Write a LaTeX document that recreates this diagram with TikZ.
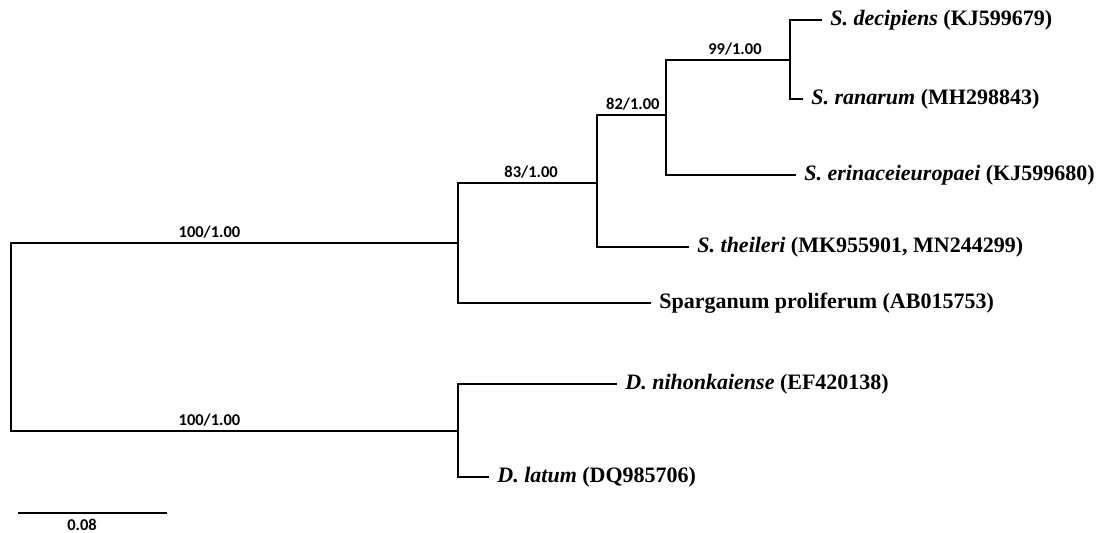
\documentclass[tikz,border=0pt]{standalone}
\usepackage{fontspec}
\setmainfont{Liberation Serif}
\newfontfamily\supfont{Carlito}
\usepackage{tikz}
\usetikzlibrary{positioning}

\tikzset{
	branch/.style={line width=1.pt},
	taxon/.style={anchor=west, inner xsep=4pt, inner ysep=0pt, font=\fontsize{11}{13}\selectfont\bfseries},
	support/.style={above, inner sep=2pt, font=\supfont\fontsize{8.25}{10}\selectfont\bfseries},
}

\begin{document}
\begin{tikzpicture}[x=0.5pt,y=-0.5pt]
	\useasboundingbox (0,0) rectangle (1101,533);
	
	% internal nodes
	\coordinate (root) at (11,337);
	\coordinate (nA) at (458,243);
	\coordinate (nB) at (597,183);
	\coordinate (nC) at (666,115);
	\coordinate (nD) at (790,60);
	\coordinate (nE) at (458,431);
	
	% taxa
	\node[taxon] (dec) at (822,20) {\textit{S. decipiens} (KJ599679)};
	\node[taxon] (ran) at (803,99) {\textit{S. ranarum} (MH298843)};
	\node[taxon] (eri) at (796,175) {\textit{S. erinaceieuropaei} (KJ599680)};
	\node[taxon] (the) at (689,247) {\textit{S. theileri} (MK955901, MN244299)};
	\node[taxon] (spa) at (651,303) {Sparganum proliferum (AB015753)};
	\node[taxon] (nih) at (617,384) {\textit{D. nihonkaiense} (EF420138)};
	\node[taxon] (lat) at (489,477) {\textit{D. latum} (DQ985706)};
	
	\draw [branch] (root) |- (nA) node[support,pos=0.722] {100/1.00};
	\draw [branch] (root) |- (nE) node[support,pos=0.722] {100/1.00};
	
	\draw [branch] (nA) |- (nB) node[support,pos=0.763] {83/1.00};
	\draw [branch] (nA) |- (spa);
	
	\draw [branch] (nB) |- (nC) node[support,pos=0.76] {82/1.00};
	\draw [branch] (nB) |- (the);
	
	\draw [branch] (nC) |- (nD) node[support,pos=0.778] {99/1.00};
	\draw [branch] (nC) |- (eri);
	
	\draw [branch] (nD) |- (dec);
	\draw [branch] (nD) |- (ran);
	
	\draw [branch] (nE) |- (nih);
	\draw [branch] (nE) |- (lat);
	
	% scale bar
	\coordinate (s0) at (18,513);
	\coordinate (s1) at (167,513);
	\draw [line width=1.4pt] (s0) -- (s1);
	\node[support, anchor=center] (scale) at (82,525) {0.08};
\end{tikzpicture}
\end{document}
